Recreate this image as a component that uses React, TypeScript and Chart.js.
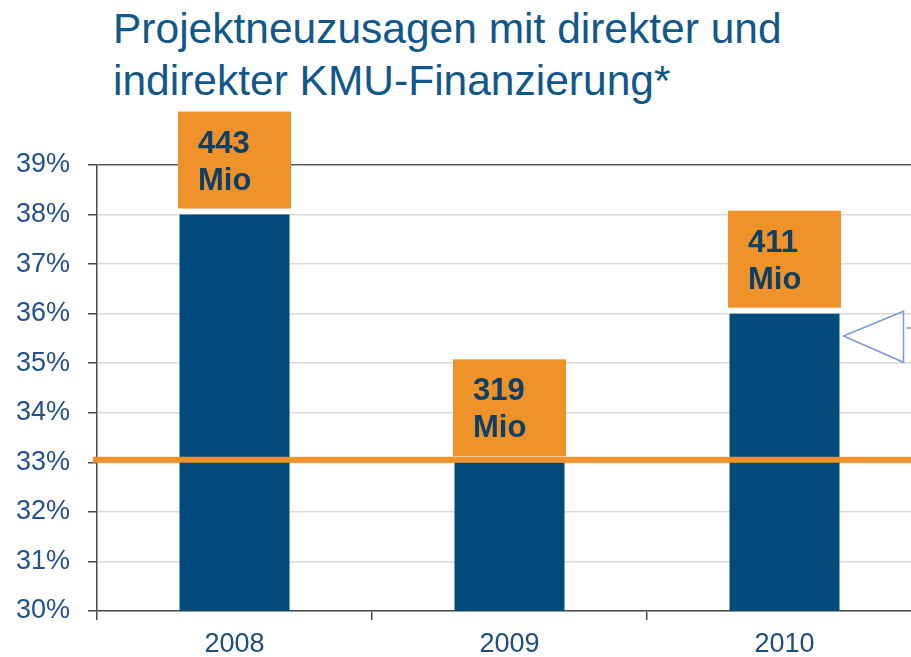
import React, { useEffect, useRef } from "react";
import { Chart, registerables } from "chart.js";

Chart.register(...registerables);

const titleLines = ["Projektneuzusagen mit direkter und", "indirekter KMU-Finanzierung*"];
const categories = ["2008", "2009", "2010"];
const shareValues = [38, 33, 36];
const boxTopLines = ["443", "319", "411"];
const boxBottomLines = ["Mio", "Mio", "Mio"];
const referenceValue = 33.05;
const yMin = 30;
const yMax = 39;
const calloutTop = 36.05;
const calloutTip = 35.55;
const calloutBottom = 35.02;
const calloutStem = 35.71;

const BAR = "#014A7A";
const ORANGE = "#EF9229";
const BOX_TEXT = "#0E3F66";
const AXIS = "#4A4A4A";

const overlayPlugin = {
  id: "overlay",
  afterDatasetsDraw(chart: any) {
    const ctx = chart.ctx;
    const ys = chart.scales.y;
    const area = chart.chartArea;
    const meta = chart.getDatasetMeta(0);
    ctx.save();
    const ly = ys.getPixelForValue(referenceValue);
    ctx.strokeStyle = ORANGE;
    ctx.lineWidth = 6;
    ctx.beginPath();
    ctx.moveTo(area.left - 4, ly);
    ctx.lineTo(chart.width, ly);
    ctx.stroke();
    meta.data.forEach((el: any, i: number) => {
      const bw = 113;
      const bh = 97;
      const left = el.x - bw / 2;
      const top = el.y - 6 - bh;
      ctx.fillStyle = ORANGE;
      ctx.fillRect(left, top, bw, bh);
      ctx.fillStyle = BOX_TEXT;
      ctx.font = "bold 31px 'Liberation Sans', Arial, sans-serif";
      ctx.textAlign = "left";
      ctx.textBaseline = "alphabetic";
      ctx.fillText(boxTopLines[i], left + 20, top + 41);
      ctx.fillText(boxBottomLines[i], left + 20, top + 78);
    });
    const last: any = meta.data[meta.data.length - 1];
    const tipX = last.x + last.width / 2 + 4;
    const baseX = tipX + 60;
    ctx.strokeStyle = "#7B9AD6";
    ctx.lineWidth = 1.5;
    ctx.beginPath();
    ctx.moveTo(baseX, ys.getPixelForValue(calloutTop));
    ctx.lineTo(tipX, ys.getPixelForValue(calloutTip));
    ctx.lineTo(baseX, ys.getPixelForValue(calloutBottom));
    ctx.closePath();
    ctx.stroke();
    const hy = ys.getPixelForValue(calloutStem);
    ctx.beginPath();
    ctx.moveTo(baseX + 3, hy);
    ctx.lineTo(chart.width, hy);
    ctx.stroke();
    ctx.restore();
  },
};

export default function App() {
  const ref = useRef<HTMLCanvasElement | null>(null);
  useEffect(() => {
    if (!ref.current) return;
    const chart = new Chart(ref.current, {
      type: "bar",
      data: {
        labels: categories,
        datasets: [
          {
            data: shareValues,
            backgroundColor: BAR,
            barPercentage: 0.4,
            categoryPercentage: 1,
          },
        ],
      },
      options: {
        responsive: false,
        animation: false,
        layout: { padding: { left: 16, top: 165, right: 18, bottom: 0 } },
        plugins: {
          legend: { display: false },
          tooltip: { enabled: false },
          title: { display: false },
        },
        scales: {
          x: {
            offset: true,
            afterFit: (s: any) => {
              s.height = 50;
            },
            grid: {
              display: true,
              drawOnChartArea: false,
              drawTicks: true,
              tickLength: 9,
              tickColor: AXIS,
              offset: true,
              lineWidth: 1.5,
            },
            border: { color: AXIS, width: 1.5 },
            ticks: {
              color: "#1F4E79",
              padding: 8,
              font: { family: "'Liberation Sans', Arial, sans-serif", size: 27, lineHeight: 1.2 },
            },
          },
          y: {
            min: yMin,
            max: yMax,
            afterFit: (s: any) => {
              s.width = 81;
            },
            grid: {
              color: (c: any) => (c.tick && c.tick.value === yMax ? "#5A5A5A" : "#D9D9D9"),
              lineWidth: 1.5,
              tickLength: 9,
              tickColor: AXIS,
            },
            border: { color: AXIS, width: 1.5 },
            ticks: {
              stepSize: 1,
              padding: 18,
              color: "#24508C",
              font: { family: "'Liberation Sans', Arial, sans-serif", size: 27 },
              callback: (v: any) => `${v}%`,
            },
          },
        },
      },
      plugins: [overlayPlugin],
    });
    return () => chart.destroy();
  }, []);

  return (
    <div
      style={{
        position: "fixed",
        left: 0,
        top: 0,
        width: 911,
        height: 657,
        overflow: "hidden",
        background: "#fff",
      }}
    >
      <div
        style={{
          position: "absolute",
          left: 113,
          top: 3,
          fontFamily: "'Liberation Sans', Arial, sans-serif",
          fontSize: 42.5,
          lineHeight: "52px",
          color: "#12578A",
          whiteSpace: "nowrap",
        }}
      >
        {titleLines.map((t) => (
          <div key={t}>{t}</div>
        ))}
      </div>
      <canvas
        ref={ref}
        width={940}
        height={661}
        style={{ position: "absolute", left: 0, top: 0, width: 940, height: 661 }}
      />
    </div>
  );
}
